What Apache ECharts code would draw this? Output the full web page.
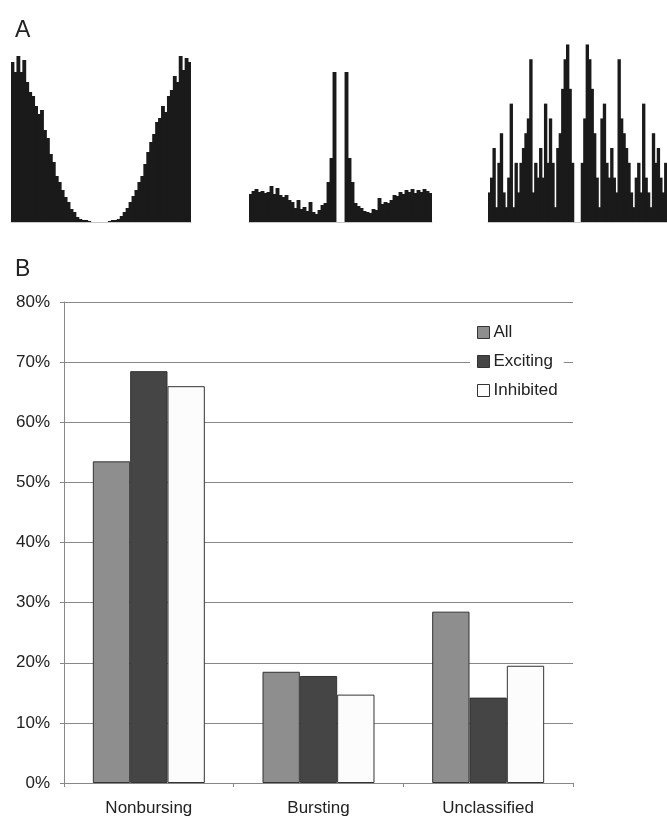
<!DOCTYPE html>
<html>
<head>
<meta charset="utf-8">
<script src="https://cdn.jsdelivr.net/npm/echarts@6/dist/echarts.min.js"></script>
<style>
  html, body { margin: 0; padding: 0; background: #fff; }
  #main { width: 667px; height: 818px; }
</style>
</head>
<body>
<div id="main"></div>
<script>
// panel A: three autocorrelograms (bin heights)
var hist1 = [160, 150, 166, 150, 162, 140, 130, 126, 116, 108, 112, 92, 84, 68, 60, 46, 40, 32, 25, 20,
  13, 10, 5, 3, 2, 2, 1, 0, 0, 0, 0, 0, 0, 1, 2, 2, 3, 6, 10, 14,
  20, 26, 32, 40, 46, 58, 70, 80, 88, 100, 104, 116, 110, 126, 132, 146, 140, 166, 152, 164, 160];
var hist2 = [28, 31, 33, 30, 31, 29, 30, 36, 28, 34, 27, 25, 27, 22, 20, 14, 22, 13, 15, 11,
  20, 10, 8, 12, 17, 19, 40, 64, 150, 0, 0, 0, 150, 64, 40, 19, 16, 14, 11, 10,
  9, 13, 12, 24, 18, 20, 19, 22, 27, 26, 30, 28, 32, 30, 33, 29, 32, 30, 33, 31, 29];
var hist3 = [2, 3, 5, 1, 4, 6, 2, 1, 3, 8, 1, 4, 2, 4, 5, 6, 7, 11, 2, 4,
  3, 5, 3, 8, 4, 7, 4, 1, 5, 6, 9, 11, 12, 9, 4, 0, 0, 0,
  4, 7, 12, 11, 9, 6, 3, 1, 7, 8, 4, 3, 5, 3, 2, 11, 7, 6, 5, 4,
  2, 1, 3, 4, 2, 8, 3, 2, 1, 6, 4, 5, 3, 2, 4];

// panel B
var categories = ['Nonbursing', 'Bursting', 'Unclassified'];
var allCells = [0.535, 0.185, 0.285];
var excitingCells = [0.685, 0.178, 0.142];
var inhibitedCells = [0.66, 0.147, 0.195];
var yTicks = [0, 0.1, 0.2, 0.3, 0.4, 0.5, 0.6, 0.7, 0.8];

var font = '"Liberation Sans", Arial, sans-serif';
var chart = echarts.init(document.getElementById('main'), null, { renderer: 'canvas' });

// histogram panels: left, width, y max
var histPanels = [
  { data: hist1, left: 11, width: 180, max: 182 },
  { data: hist2, left: 249, width: 183, max: 182 },
  { data: hist3, left: 488, width: 179, max: 12.3 }
];

var grids = [], xAxes = [], yAxes = [], series = [];
histPanels.forEach(function (p, i) {
  grids.push({ left: p.left, width: p.width, top: 40, height: 182 });
  xAxes.push({
    type: 'category', gridIndex: i,
    data: p.data.map(function (v, k) { return k; }),
    axisLine: { show: true, lineStyle: { color: '#c8c8c8', width: 1 } },
    axisTick: { show: false }, axisLabel: { show: false }
  });
  yAxes.push({
    type: 'value', gridIndex: i, min: 0, max: p.max,
    axisLine: { show: false }, axisTick: { show: false },
    axisLabel: { show: false }, splitLine: { show: false }
  });
  // slightly wider than a bin so neighbours overlap and no seams show
  series.push({
    name: 'hist' + (i + 1), type: 'bar', xAxisIndex: i, yAxisIndex: i,
    data: p.data, barWidth: p.width / p.data.length + 0.9,
    itemStyle: { color: '#1a1a1a' },
    silent: true, animation: false
  });
});

// bar chart grid
grids.push({ left: 64, right: 94, top: 302, bottom: 35 });
xAxes.push({
  type: 'category', gridIndex: 3, data: categories,
  axisLine: { lineStyle: { color: '#888', width: 1 } },
  axisTick: { show: true, length: 4, lineStyle: { color: '#888' } },
  axisLabel: { color: '#222', fontSize: 17, fontFamily: font, margin: 17 }
});
yAxes.push({
  type: 'value', gridIndex: 3, min: 0, max: 0.8, interval: 0.1,
  axisLine: { show: true, lineStyle: { color: '#888', width: 1 } },
  axisTick: { show: true, length: 4, lineStyle: { color: '#888' } },
  axisLabel: {
    color: '#222', fontSize: 17, fontFamily: font, margin: 14,
    formatter: function (v) { return yTicks.indexOf(Math.round(v * 10) / 10) >= 0 ? Math.round(v * 100) + '%' : ''; }
  },
  splitLine: { show: true, lineStyle: { color: '#888', width: 1 } }
});

var barColors = ['#8e8e8e', '#454545', '#fcfcfc'];
[['All', allCells], ['Exciting', excitingCells], ['Inhibited', inhibitedCells]].forEach(function (s, k) {
  series.push({
    name: s[0], type: 'bar', xAxisIndex: 3, yAxisIndex: 3, data: s[1],
    barCategoryGap: '34%', barGap: '0%',
    itemStyle: { color: barColors[k], borderColor: '#333', borderWidth: 1 },
    animation: false
  });
});

chart.setOption({
  backgroundColor: '#fff',
  title: [
    { text: 'A', left: 10, top: 14, textStyle: { fontSize: 23, fontWeight: 'normal', color: '#222', fontFamily: font } },
    { text: 'B', left: 10, top: 253, textStyle: { fontSize: 23, fontWeight: 'normal', color: '#222', fontFamily: font } }
  ],
  legend: {
    data: ['All', 'Exciting', 'Inhibited'],
    orient: 'vertical', left: 470, top: 319,
    padding: [5, 6, 5, 7], itemGap: 12,
    itemWidth: 12, itemHeight: 12, itemStyle: { borderColor: '#333', borderWidth: 1 },
    icon: 'rect', backgroundColor: '#fff',
    textStyle: { color: '#222', fontSize: 17, fontFamily: font, padding: [0, 0, 0, -1] }
  },
  grid: grids,
  xAxis: xAxes,
  yAxis: yAxes,
  series: series
});
</script>
</body>
</html>
